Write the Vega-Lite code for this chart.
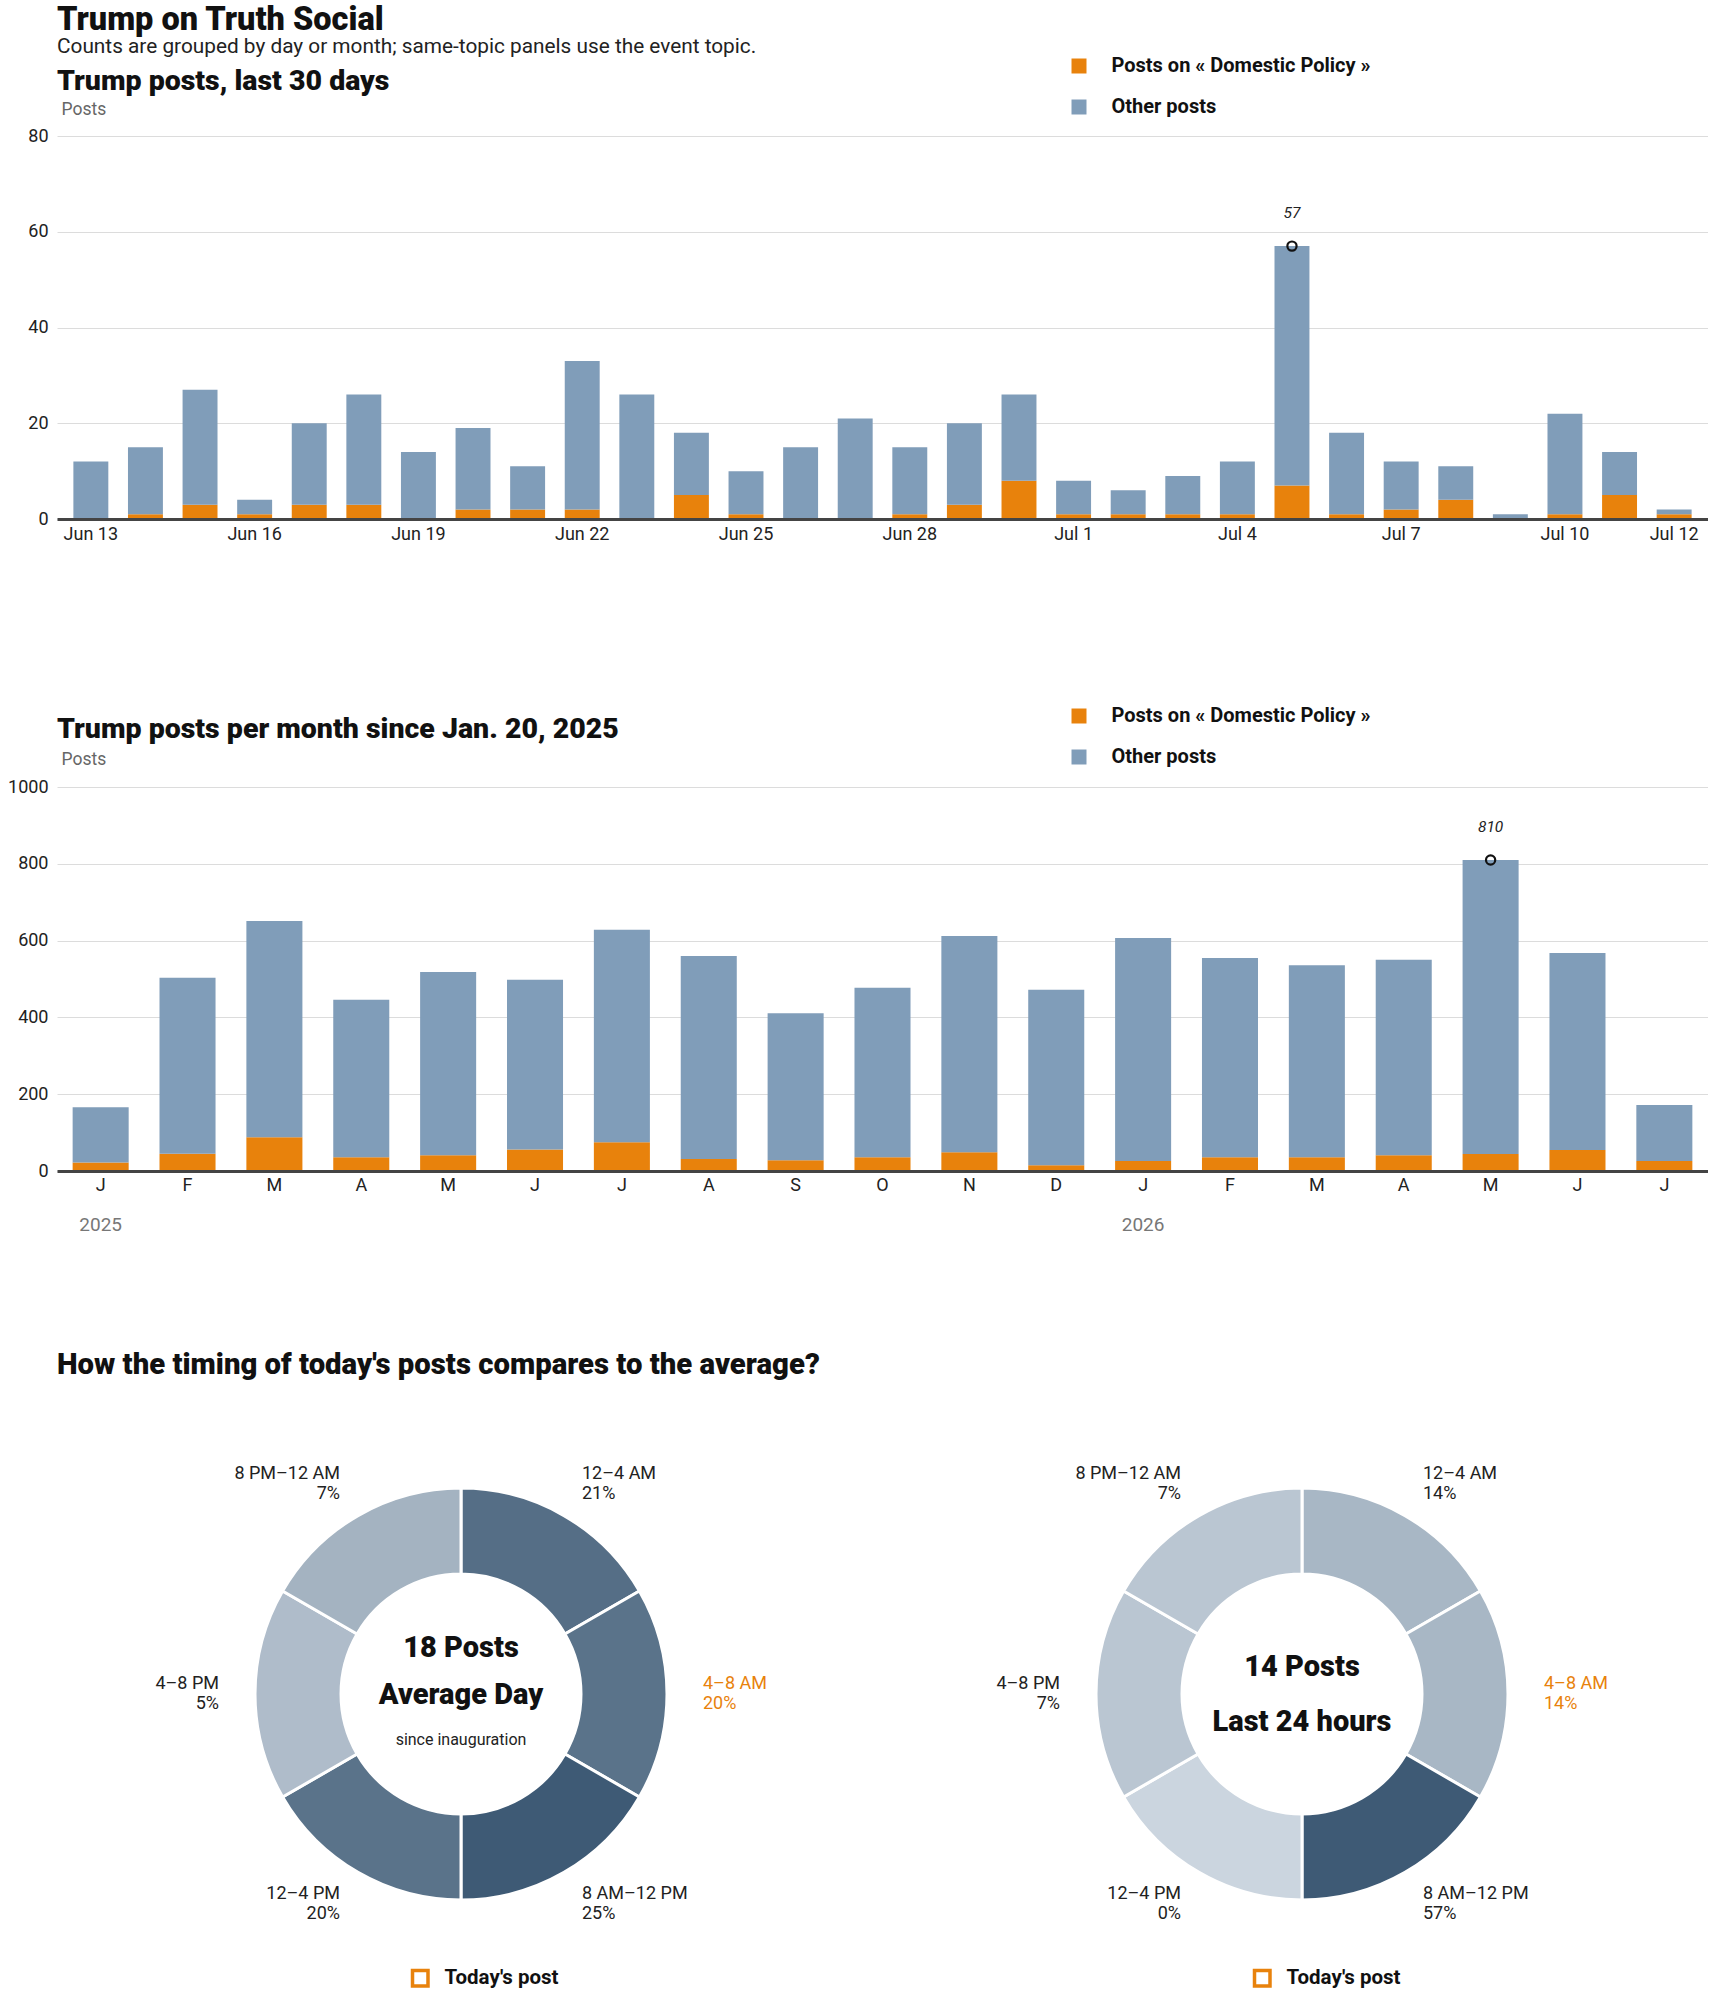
{
  "$schema": "https://vega.github.io/schema/vega-lite/v6.json",
  "padding": {"left": 7, "top": 3, "right": 0, "bottom": 0},
  "background": "white",
  "title": {
    "text": "Trump on Truth Social",
    "subtitle": "Counts are grouped by day or month; same-topic panels use the event topic.",
    "anchor": "start", "frame": "group",
    "fontSize": 32.5, "fontWeight": 900, "color": "#111",
    "subtitleFontSize": 20.8, "subtitleColor": "#222", "subtitlePadding": 1, "offset": -1
  },
  "spacing": 116,
  "resolve": {
    "scale": {"x": "independent", "y": "independent", "color": "independent"},
    "legend": {"color": "independent"}
  },
  "vconcat": [
    {
      "width": 1651, "height": 383,
      "title": {"text": "Trump posts, last 30 days", "anchor": "start", "frame": "group", "fontSize": 28.5, "fontWeight": 900, "color": "#111", "offset": -39},
      "data": {"values": [
        {"date": "2026-06-13", "Posts on « Domestic Policy »": 0, "Other posts": 12},
        {"date": "2026-06-14", "Posts on « Domestic Policy »": 1, "Other posts": 14},
        {"date": "2026-06-15", "Posts on « Domestic Policy »": 3, "Other posts": 24},
        {"date": "2026-06-16", "Posts on « Domestic Policy »": 1, "Other posts": 3},
        {"date": "2026-06-17", "Posts on « Domestic Policy »": 3, "Other posts": 17},
        {"date": "2026-06-18", "Posts on « Domestic Policy »": 3, "Other posts": 23},
        {"date": "2026-06-19", "Posts on « Domestic Policy »": 0, "Other posts": 14},
        {"date": "2026-06-20", "Posts on « Domestic Policy »": 2, "Other posts": 17},
        {"date": "2026-06-21", "Posts on « Domestic Policy »": 2, "Other posts": 9},
        {"date": "2026-06-22", "Posts on « Domestic Policy »": 2, "Other posts": 31},
        {"date": "2026-06-23", "Posts on « Domestic Policy »": 0, "Other posts": 26},
        {"date": "2026-06-24", "Posts on « Domestic Policy »": 5, "Other posts": 13},
        {"date": "2026-06-25", "Posts on « Domestic Policy »": 1, "Other posts": 9},
        {"date": "2026-06-26", "Posts on « Domestic Policy »": 0, "Other posts": 15},
        {"date": "2026-06-27", "Posts on « Domestic Policy »": 0, "Other posts": 21},
        {"date": "2026-06-28", "Posts on « Domestic Policy »": 1, "Other posts": 14},
        {"date": "2026-06-29", "Posts on « Domestic Policy »": 3, "Other posts": 17},
        {"date": "2026-06-30", "Posts on « Domestic Policy »": 8, "Other posts": 18},
        {"date": "2026-07-01", "Posts on « Domestic Policy »": 1, "Other posts": 7},
        {"date": "2026-07-02", "Posts on « Domestic Policy »": 1, "Other posts": 5},
        {"date": "2026-07-03", "Posts on « Domestic Policy »": 1, "Other posts": 8},
        {"date": "2026-07-04", "Posts on « Domestic Policy »": 1, "Other posts": 11},
        {"date": "2026-07-05", "Posts on « Domestic Policy »": 7, "Other posts": 50},
        {"date": "2026-07-06", "Posts on « Domestic Policy »": 1, "Other posts": 17},
        {"date": "2026-07-07", "Posts on « Domestic Policy »": 2, "Other posts": 10},
        {"date": "2026-07-08", "Posts on « Domestic Policy »": 4, "Other posts": 7},
        {"date": "2026-07-09", "Posts on « Domestic Policy »": 0, "Other posts": 1},
        {"date": "2026-07-10", "Posts on « Domestic Policy »": 1, "Other posts": 21},
        {"date": "2026-07-11", "Posts on « Domestic Policy »": 5, "Other posts": 9},
        {"date": "2026-07-12", "Posts on « Domestic Policy »": 1, "Other posts": 1}
      ]},
      "transform": [{"fold": ["Posts on « Domestic Policy »", "Other posts"], "as": ["series", "posts"]}],
      "layer": [
        {
          "mark": {"type": "bar"},
          "encoding": {
            "x": {"field": "date", "type": "nominal", "title": null,
                  "scale": {"paddingInner": 0.36, "paddingOuter": 0.3},
                  "axis": {"values": ["2026-06-13","2026-06-16","2026-06-19","2026-06-22","2026-06-25","2026-06-28","2026-07-01","2026-07-04","2026-07-07","2026-07-10","2026-07-12"],
                           "labelExpr": "timeFormat(timeParse(datum.value, '%Y-%m-%d'), '%b %-d')",
                           "labelAngle": 0, "labelPadding": 6, "labelOverlap": false, "ticks": false,
                           "domainColor": "#444", "domainWidth": 3, "grid": false, "zindex": 1}},
            "y": {"field": "posts", "type": "quantitative", "stack": "zero", "title": "Posts",
                  "scale": {"domain": [0, 80], "nice": false},
                  "axis": {"values": [0, 20, 40, 60, 80], "format": "d", "grid": true, "gridColor": "#dcdcdc", "gridWidth": 1,
                           "domain": false, "ticks": false, "labelPadding": 9,
                           "titleAngle": 0, "titleX": 4, "titleY": -27, "titleAlign": "left", "titleBaseline": "middle",
                           "titleFontSize": 17.5, "titleFontWeight": "normal", "titleColor": "#666"}},
            "color": {"field": "series", "type": "nominal",
                      "scale": {"domain": ["Posts on « Domestic Policy »", "Other posts"], "range": ["#e8820c", "#809db9"]},
                      "legend": {"orient": "none", "legendX": 1012, "legendY": -80, "title": null, "direction": "vertical",
                                 "symbolType": "square", "symbolSize": 225, "symbolStrokeWidth": 0,
                                 "labelFontSize": 20, "labelFontWeight": "bold", "labelColor": "#111", "labelLimit": 500,
                                 "rowPadding": 21, "labelOffset": 22.5, "padding": 0}},
            "order": {"field": "series", "sort": "descending"}
          }
        },
        {
          "transform": [
            {"aggregate": [{"op": "sum", "field": "posts", "as": "total"}], "groupby": ["date"]},
            {"joinaggregate": [{"op": "max", "field": "total", "as": "peak"}]},
            {"filter": "datum.total === datum.peak"}
          ],
          "mark": {"type": "point", "shape": "circle", "filled": false, "stroke": "#111", "strokeWidth": 2.2, "size": 85, "opacity": 1},
          "encoding": {
            "x": {"field": "date", "type": "nominal", "title": null},
            "y": {"field": "total", "type": "quantitative", "title": "Posts"}
          }
        },
        {
          "transform": [
            {"aggregate": [{"op": "sum", "field": "posts", "as": "total"}], "groupby": ["date"]},
            {"joinaggregate": [{"op": "max", "field": "total", "as": "peak"}]},
            {"filter": "datum.total === datum.peak"}
          ],
          "mark": {"type": "text", "dy": -33, "fontStyle": "italic", "fontSize": 15.5, "color": "#222", "baseline": "middle"},
          "encoding": {
            "x": {"field": "date", "type": "nominal", "title": null},
            "y": {"field": "total", "type": "quantitative", "title": "Posts"},
            "text": {"field": "total", "type": "quantitative"}
          }
        }
      ]
    },
    {
      "width": 1651, "height": 384,
      "title": {"text": "Trump posts per month since Jan. 20, 2025", "anchor": "start", "frame": "group", "fontSize": 28.5, "fontWeight": 900, "color": "#111", "offset": -84},
      "data": {"values": [
        {"month": "2025-01", "Posts on « Domestic Policy »": 22, "Other posts": 144},
        {"month": "2025-02", "Posts on « Domestic Policy »": 45, "Other posts": 458},
        {"month": "2025-03", "Posts on « Domestic Policy »": 88, "Other posts": 563},
        {"month": "2025-04", "Posts on « Domestic Policy »": 36, "Other posts": 410},
        {"month": "2025-05", "Posts on « Domestic Policy »": 41, "Other posts": 477},
        {"month": "2025-06", "Posts on « Domestic Policy »": 56, "Other posts": 442},
        {"month": "2025-07", "Posts on « Domestic Policy »": 75, "Other posts": 553},
        {"month": "2025-08", "Posts on « Domestic Policy »": 31, "Other posts": 529},
        {"month": "2025-09", "Posts on « Domestic Policy »": 28, "Other posts": 383},
        {"month": "2025-10", "Posts on « Domestic Policy »": 36, "Other posts": 441},
        {"month": "2025-11", "Posts on « Domestic Policy »": 49, "Other posts": 563},
        {"month": "2025-12", "Posts on « Domestic Policy »": 15, "Other posts": 457},
        {"month": "2026-01", "Posts on « Domestic Policy »": 26, "Other posts": 581},
        {"month": "2026-02", "Posts on « Domestic Policy »": 36, "Other posts": 519},
        {"month": "2026-03", "Posts on « Domestic Policy »": 36, "Other posts": 500},
        {"month": "2026-04", "Posts on « Domestic Policy »": 41, "Other posts": 509},
        {"month": "2026-05", "Posts on « Domestic Policy »": 44, "Other posts": 766},
        {"month": "2026-06", "Posts on « Domestic Policy »": 55, "Other posts": 513},
        {"month": "2026-07", "Posts on « Domestic Policy »": 26, "Other posts": 146}
      ]},
      "transform": [{"fold": ["Posts on « Domestic Policy »", "Other posts"], "as": ["series", "posts"]}],
      "resolve": {"axis": {"x": "independent"}},
      "layer": [
        {
          "mark": {"type": "bar"},
          "encoding": {
            "x": {"field": "month", "type": "nominal", "title": null,
                  "scale": {"paddingInner": 0.355, "paddingOuter": 0.18},
                  "axis": {"labelExpr": "substring(timeFormat(timeParse(datum.value, '%Y-%m'), '%b'), 0, 1)",
                           "labelAngle": 0, "labelPadding": 5, "labelOverlap": false, "ticks": false,
                           "domainColor": "#444", "domainWidth": 3, "grid": false, "zindex": 1}},
            "y": {"field": "posts", "type": "quantitative", "stack": "zero", "title": "Posts",
                  "scale": {"domain": [0, 1000], "nice": false},
                  "axis": {"values": [0, 200, 400, 600, 800, 1000], "format": "d", "grid": true, "gridColor": "#dcdcdc", "gridWidth": 1,
                           "domain": false, "ticks": false, "labelPadding": 9,
                           "titleAngle": 0, "titleX": 4, "titleY": -28, "titleAlign": "left", "titleBaseline": "middle",
                           "titleFontSize": 17.5, "titleFontWeight": "normal", "titleColor": "#666"}},
            "color": {"field": "series", "type": "nominal",
                      "scale": {"domain": ["Posts on « Domestic Policy »", "Other posts"], "range": ["#e8820c", "#809db9"]},
                      "legend": {"orient": "none", "legendX": 965, "legendY": -128, "title": null, "direction": "vertical",
                                 "symbolType": "square", "symbolSize": 225, "symbolStrokeWidth": 0,
                                 "labelFontSize": 20, "labelFontWeight": "bold", "labelColor": "#111", "labelLimit": 500,
                                 "rowPadding": 21, "labelOffset": 22.5, "padding": 47}},
            "order": {"field": "series", "sort": "descending"}
          }
        },
        {
          "transform": [
            {"aggregate": [{"op": "sum", "field": "posts", "as": "total"}], "groupby": ["month"]},
            {"joinaggregate": [{"op": "max", "field": "total", "as": "peak"}]},
            {"filter": "datum.total === datum.peak"}
          ],
          "mark": {"type": "point", "shape": "circle", "filled": false, "stroke": "#111", "strokeWidth": 2.2, "size": 85, "opacity": 1},
          "encoding": {
            "x": {"field": "month", "type": "nominal", "title": null,
                  "axis": {"orient": "bottom", "offset": 39, "values": ["2025-01", "2026-01"],
                           "labelExpr": "slice(datum.value, 0, 4)", "labelAngle": 0, "labelFontSize": 19,
                           "domain": false, "ticks": false, "grid": false, "labelColor": "#777", "labelPadding": 5}},
            "y": {"field": "total", "type": "quantitative", "title": "Posts"}
          }
        },
        {
          "transform": [
            {"aggregate": [{"op": "sum", "field": "posts", "as": "total"}], "groupby": ["month"]},
            {"joinaggregate": [{"op": "max", "field": "total", "as": "peak"}]},
            {"filter": "datum.total === datum.peak"}
          ],
          "mark": {"type": "text", "dy": -33, "fontStyle": "italic", "fontSize": 15.5, "color": "#222", "baseline": "middle"},
          "encoding": {
            "x": {"field": "month", "type": "nominal", "title": null, "axis": null},
            "y": {"field": "total", "type": "quantitative", "title": "Posts"},
            "text": {"field": "total", "type": "quantitative"}
          }
        }
      ]
    },
    {
      "title": {"text": "How the timing of today's posts compares to the average?", "anchor": "start", "frame": "group", "fontSize": 29.3, "fontWeight": 900, "color": "#111", "offset": 74},
      "spacing": 33,
      "resolve": {
        "scale": {"color": "independent", "theta": "independent", "stroke": "independent"},
        "legend": {"stroke": "independent"}
      },
      "hconcat": [
        {
          "width": 808, "height": 480,
          "data": {"values": [
            {"start": 0, "hours": 4, "slot": "12–4 AM", "share": 0.21, "today": false},
            {"start": 4, "hours": 4, "slot": "4–8 AM", "share": 0.20, "today": true},
            {"start": 8, "hours": 4, "slot": "8 AM–12 PM", "share": 0.25, "today": false},
            {"start": 12, "hours": 4, "slot": "12–4 PM", "share": 0.20, "today": false},
            {"start": 16, "hours": 4, "slot": "4–8 PM", "share": 0.05, "today": false},
            {"start": 20, "hours": 4, "slot": "8 PM–12 AM", "share": 0.07, "today": false}
          ]},
          "layer": [
            {
              "mark": {"type": "arc", "outerRadius": 206, "innerRadius": 120, "stroke": "#fff", "strokeWidth": 3},
              "encoding": {
                "theta": {"field": "hours", "type": "quantitative", "stack": true},
                "order": {"field": "start", "type": "quantitative"},
                "detail": {"field": "slot", "type": "nominal"},
                "color": {"field": "share", "type": "quantitative", "legend": null,
                          "scale": {"zero": true, "nice": false, "range": ["#cbd5df", "#3e5a75"], "interpolate": "rgb"}}
              }
            },
            {
              "mark": {"type": "text", "radius": 242, "align": "left", "baseline": "middle", "dy": -10, "fontSize": 18},
              "encoding": {
                "theta": {"field": "hours", "type": "quantitative", "stack": true},
                "order": {"field": "start", "type": "quantitative"},
                "detail": {"field": "slot", "type": "nominal"},
                "text": {"condition": {"test": "datum.start < 12", "field": "slot", "type": "nominal"}, "value": ""},
                "color": {"condition": {"test": "datum.today", "value": "#e8820c"}, "value": "#222"}
              }
            },
            {
              "mark": {"type": "text", "radius": 242, "align": "left", "baseline": "middle", "dy": 10, "fontSize": 18},
              "encoding": {
                "theta": {"field": "hours", "type": "quantitative", "stack": true},
                "order": {"field": "start", "type": "quantitative"},
                "detail": {"field": "slot", "type": "nominal"},
                "text": {"condition": {"test": "datum.start < 12", "field": "share", "type": "quantitative", "format": ".0%"}, "value": ""},
                "color": {"condition": {"test": "datum.today", "value": "#e8820c"}, "value": "#222"}
              }
            },
            {
              "mark": {"type": "text", "radius": 242, "align": "right", "baseline": "middle", "dy": -10, "fontSize": 18},
              "encoding": {
                "theta": {"field": "hours", "type": "quantitative", "stack": true},
                "order": {"field": "start", "type": "quantitative"},
                "detail": {"field": "slot", "type": "nominal"},
                "text": {"condition": {"test": "datum.start >= 12", "field": "slot", "type": "nominal"}, "value": ""},
                "color": {"condition": {"test": "datum.today", "value": "#e8820c"}, "value": "#222"}
              }
            },
            {
              "mark": {"type": "text", "radius": 242, "align": "right", "baseline": "middle", "dy": 10, "fontSize": 18},
              "encoding": {
                "theta": {"field": "hours", "type": "quantitative", "stack": true},
                "order": {"field": "start", "type": "quantitative"},
                "detail": {"field": "slot", "type": "nominal"},
                "text": {"condition": {"test": "datum.start >= 12", "field": "share", "type": "quantitative", "format": ".0%"}, "value": ""},
                "color": {"condition": {"test": "datum.today", "value": "#e8820c"}, "value": "#222"}
              }
            },
            {
              "data": {"values": [{"headline": "18 Posts", "period": "Average Day", "note": "since inauguration"}]},
              "layer": [
                {"mark": {"type": "text", "fontSize": 29, "fontWeight": 900, "dy": -46, "color": "#111", "baseline": "middle"},
                 "encoding": {"text": {"field": "headline", "type": "nominal"}}},
                {"mark": {"type": "text", "fontSize": 29, "fontWeight": 900, "dy": 1, "color": "#111", "baseline": "middle"},
                 "encoding": {"text": {"field": "period", "type": "nominal"}}},
                {"mark": {"type": "text", "fontSize": 16, "dy": 46, "color": "#222", "baseline": "middle"},
                 "encoding": {"text": {"field": "note", "type": "nominal"}}}
              ]
            },
            {
              "transform": [{"filter": "datum.today"}],
              "mark": {"type": "point", "shape": "square", "filled": false, "strokeWidth": 3, "size": 240, "opacity": 0},
              "encoding": {
                "stroke": {"datum": "Today's post", "type": "nominal", "scale": {"range": ["#e8820c"]},
                           "legend": {"orient": "none", "legendX": 353, "legendY": 514, "title": null,
                                      "symbolType": "square", "symbolSize": 240, "symbolStrokeWidth": 3.5,
                                      "symbolFillColor": "#fff", "symbolOpacity": 1,
                                      "labelFontSize": 20.5, "labelFontWeight": "bold", "labelColor": "#111", "labelLimit": 300,
                                      "labelOffset": 14, "padding": 0}}
              }
            }
          ]
        },
        {
          "width": 808, "height": 480,
          "data": {"values": [
            {"start": 0, "hours": 4, "slot": "12–4 AM", "share": 0.14, "today": false},
            {"start": 4, "hours": 4, "slot": "4–8 AM", "share": 0.14, "today": true},
            {"start": 8, "hours": 4, "slot": "8 AM–12 PM", "share": 0.57, "today": false},
            {"start": 12, "hours": 4, "slot": "12–4 PM", "share": 0.0, "today": false},
            {"start": 16, "hours": 4, "slot": "4–8 PM", "share": 0.07, "today": false},
            {"start": 20, "hours": 4, "slot": "8 PM–12 AM", "share": 0.07, "today": false}
          ]},
          "layer": [
            {
              "mark": {"type": "arc", "outerRadius": 206, "innerRadius": 120, "stroke": "#fff", "strokeWidth": 3},
              "encoding": {
                "theta": {"field": "hours", "type": "quantitative", "stack": true},
                "order": {"field": "start", "type": "quantitative"},
                "detail": {"field": "slot", "type": "nominal"},
                "color": {"field": "share", "type": "quantitative", "legend": null,
                          "scale": {"zero": true, "nice": false, "range": ["#cbd5df", "#3e5a75"], "interpolate": "rgb"}}
              }
            },
            {
              "mark": {"type": "text", "radius": 242, "align": "left", "baseline": "middle", "dy": -10, "fontSize": 18},
              "encoding": {
                "theta": {"field": "hours", "type": "quantitative", "stack": true},
                "order": {"field": "start", "type": "quantitative"},
                "detail": {"field": "slot", "type": "nominal"},
                "text": {"condition": {"test": "datum.start < 12", "field": "slot", "type": "nominal"}, "value": ""},
                "color": {"condition": {"test": "datum.today", "value": "#e8820c"}, "value": "#222"}
              }
            },
            {
              "mark": {"type": "text", "radius": 242, "align": "left", "baseline": "middle", "dy": 10, "fontSize": 18},
              "encoding": {
                "theta": {"field": "hours", "type": "quantitative", "stack": true},
                "order": {"field": "start", "type": "quantitative"},
                "detail": {"field": "slot", "type": "nominal"},
                "text": {"condition": {"test": "datum.start < 12", "field": "share", "type": "quantitative", "format": ".0%"}, "value": ""},
                "color": {"condition": {"test": "datum.today", "value": "#e8820c"}, "value": "#222"}
              }
            },
            {
              "mark": {"type": "text", "radius": 242, "align": "right", "baseline": "middle", "dy": -10, "fontSize": 18},
              "encoding": {
                "theta": {"field": "hours", "type": "quantitative", "stack": true},
                "order": {"field": "start", "type": "quantitative"},
                "detail": {"field": "slot", "type": "nominal"},
                "text": {"condition": {"test": "datum.start >= 12", "field": "slot", "type": "nominal"}, "value": ""},
                "color": {"condition": {"test": "datum.today", "value": "#e8820c"}, "value": "#222"}
              }
            },
            {
              "mark": {"type": "text", "radius": 242, "align": "right", "baseline": "middle", "dy": 10, "fontSize": 18},
              "encoding": {
                "theta": {"field": "hours", "type": "quantitative", "stack": true},
                "order": {"field": "start", "type": "quantitative"},
                "detail": {"field": "slot", "type": "nominal"},
                "text": {"condition": {"test": "datum.start >= 12", "field": "share", "type": "quantitative", "format": ".0%"}, "value": ""},
                "color": {"condition": {"test": "datum.today", "value": "#e8820c"}, "value": "#222"}
              }
            },
            {
              "data": {"values": [{"headline": "14 Posts", "period": "Last 24 hours"}]},
              "layer": [
                {"mark": {"type": "text", "fontSize": 29, "fontWeight": 900, "dy": -27, "color": "#111", "baseline": "middle"},
                 "encoding": {"text": {"field": "headline", "type": "nominal"}}},
                {"mark": {"type": "text", "fontSize": 29, "fontWeight": 900, "dy": 28, "color": "#111", "baseline": "middle"},
                 "encoding": {"text": {"field": "period", "type": "nominal"}}}
              ]
            },
            {
              "transform": [{"filter": "datum.today"}],
              "mark": {"type": "point", "shape": "square", "filled": false, "strokeWidth": 3, "size": 240, "opacity": 0},
              "encoding": {
                "stroke": {"datum": "Today's post", "type": "nominal", "scale": {"range": ["#e8820c"]},
                           "legend": {"orient": "none", "legendX": 354, "legendY": 514, "title": null,
                                      "symbolType": "square", "symbolSize": 240, "symbolStrokeWidth": 3.5,
                                      "symbolFillColor": "#fff", "symbolOpacity": 1,
                                      "labelFontSize": 20.5, "labelFontWeight": "bold", "labelColor": "#111", "labelLimit": 300,
                                      "labelOffset": 14, "padding": 0}}
              }
            }
          ]
        }
      ]
    }
  ],
  "config": {
    "font": "Roboto",
    "view": {"stroke": null},
    "axis": {"labelFont": "Roboto", "titleFont": "Roboto", "labelFontSize": 18, "labelColor": "#222"},
    "legend": {"labelFont": "Roboto"},
    "title": {"font": "Roboto", "color": "#111", "subtitleFont": "Roboto"},
    "text": {"font": "Roboto"}
  }
}
